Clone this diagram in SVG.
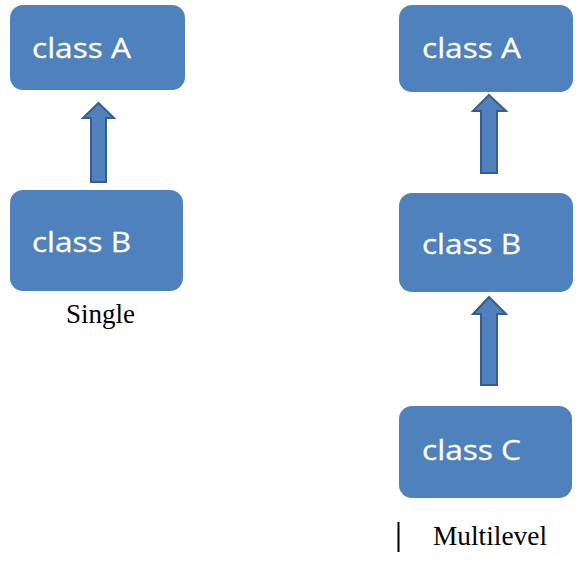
<svg xmlns="http://www.w3.org/2000/svg" width="577" height="563" viewBox="0 0 577 563">
<style>
.box{fill:#4F81BD;}
.lbl{font-family:"Open Sans","Noto Sans",sans-serif;font-size:28px;fill:#FFFFFF;stroke:#FFFFFF;stroke-width:0.3;}
.cap{font-family:"Liberation Serif","Times New Roman",serif;font-size:27px;fill:#000000;}
.arr{fill:#4F81BD;stroke:#385D8A;stroke-width:2;stroke-linejoin:miter;}
</style>
<rect width="577" height="563" fill="#FFFFFF"/>
<g id="single-A"><rect class="box" x="10" y="5" width="175" height="85" rx="13"/><text class="lbl" x="32" y="58" textLength="99" lengthAdjust="spacingAndGlyphs">class A</text></g>
<g id="single-B"><rect class="box" x="10" y="190" width="173" height="101" rx="13"/><text class="lbl" x="32" y="252" textLength="99" lengthAdjust="spacingAndGlyphs">class B</text></g>
<g id="multi-A"><rect class="box" x="399" y="5" width="174" height="87" rx="13"/><text class="lbl" x="422" y="58" textLength="99" lengthAdjust="spacingAndGlyphs">class A</text></g>
<g id="multi-B"><rect class="box" x="399" y="193" width="174" height="99" rx="13"/><text class="lbl" x="422" y="254" textLength="99" lengthAdjust="spacingAndGlyphs">class B</text></g>
<g id="multi-C"><rect class="box" x="399" y="406" width="173" height="92" rx="13"/><text class="lbl" x="422" y="460" textLength="99" lengthAdjust="spacingAndGlyphs">class C</text></g>
<g id="connectors">
<polygon class="arr" points="98.5,103 114,118 106,118 106,182 91,182 91,118 83,118"/>
<polygon class="arr" points="489,95 506,111 497,111 497,173 481,173 481,111 473,111"/>
<polygon class="arr" points="489,297 506,314 497,314 497,385 481,385 481,314 473,314"/>
</g>
<g id="captions">
<text class="cap" x="66" y="323" textLength="69" lengthAdjust="spacingAndGlyphs">Single</text>
<line x1="398.5" y1="522" x2="398.5" y2="552" stroke="#000000" stroke-width="2"/>
<text class="cap" x="433" y="545" textLength="114" lengthAdjust="spacingAndGlyphs">Multilevel</text>
</g>
</svg>
